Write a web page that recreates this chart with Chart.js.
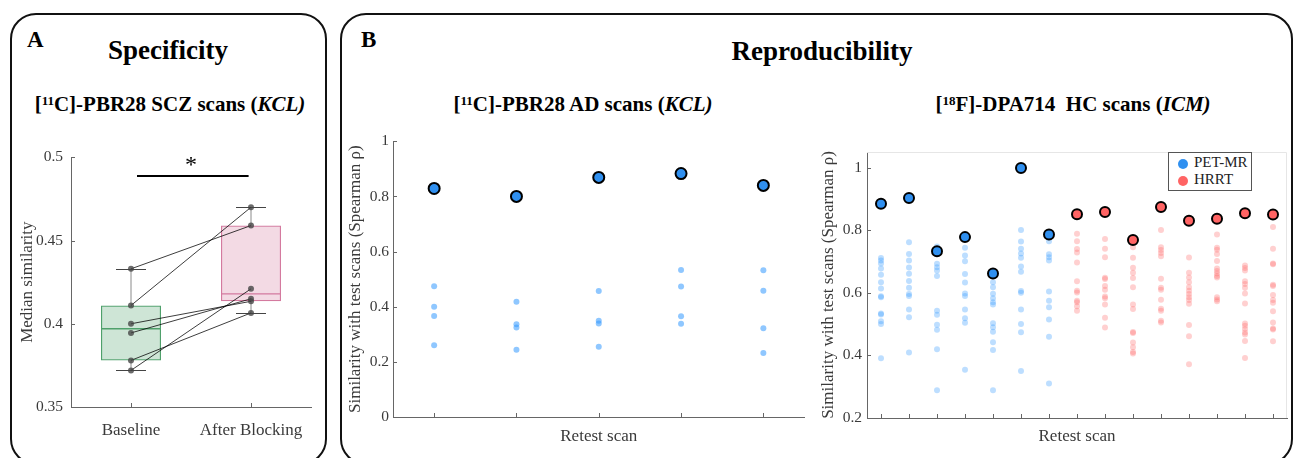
<!DOCTYPE html>
<html>
<head>
<meta charset="utf-8">
<script src="https://cdn.jsdelivr.net/npm/chart.js@4.4.0/dist/chart.umd.min.js"></script>
<style>
  html, body { margin: 0; padding: 0; background: #fff; }
  body {
    width: 1294px; height: 458px; position: relative; overflow: hidden;
    font-family: 'Liberation Serif', 'Times New Roman', serif; color: #000;
  }
  .panel { position: absolute; border: 2px solid #111; border-radius: 26px; box-sizing: border-box; }
  .txt { position: absolute; white-space: pre; font-weight: bold; line-height: normal; }
  .center { transform: translateX(-50%); }
  .sup { font-size: 0.62em; position: relative; top: -0.5em; }
  canvas { position: absolute; }
  #legend {
    position: absolute; left: 1168px; top: 152px; width: 84px; height: 39px;
    box-sizing: border-box; border: 1px solid #555; background: #fff;
    font-size: 15px; color: #222;
  }
  #legend div { position: absolute; left: 25px; white-space: nowrap; }
  #legend span.dot { position: absolute; width: 10px; height: 10px; border-radius: 50%; left: 9px; }
</style>
</head>
<body>

<div class="panel" style="left:10px; top:13px; width:317px; height:452px;"></div>
<div class="panel" style="left:340px; top:13px; width:953px; height:452px;"></div>

<div class="txt" style="left:27px; top:27px; font-size:23px;">A</div>
<div class="txt center" style="left:168px; top:35px; font-size:27px;">Specificity</div>
<div class="txt center" style="left:170px; top:92px; font-size:21px;">[<span class="sup">11</span>C]-PBR28 SCZ scans (<i>KCL)</i></div>

<div class="txt" style="left:361px; top:27px; font-size:23px;">B</div>
<div class="txt center" style="left:822px; top:36px; font-size:27px;">Reproducibility</div>
<div class="txt center" style="left:583px; top:92px; font-size:21px;">[<span class="sup">11</span>C]-PBR28 AD scans (<i>KCL)</i></div>
<div class="txt center" style="left:1073px; top:92px; font-size:21px;">[<span class="sup">18</span>F]-DPA714  HC scans (<i>ICM)</i></div>

<canvas id="specChart" width="326" height="318" style="left:0px; top:140px;"></canvas>
<canvas id="adChart" width="470" height="330" style="left:342px; top:128px;"></canvas>
<canvas id="hcChart" width="482" height="330" style="left:812px; top:128px;"></canvas>

<div id="legend">
  <span class="dot" style="top:6px; background:#3090f0;"></span><div style="top:1px;">PET-MR</div>
  <span class="dot" style="top:23px; background:#ff6464;"></span><div style="top:18px;">HRRT</div>
</div>

<script>
// ---- A: specificity (median similarity per subject) ----
const groups = ['Baseline', 'After Blocking'];
const baselineSim = [0.433, 0.411, 0.400, 0.3945, 0.378, 0.372];
const blockedSim = [0.459, 0.470, 0.4135, 0.415, 0.4065, 0.421];
const boxQ1 = [0.378, 0.4135];
const boxQ3 = [0.411, 0.459];
const boxMedian = [0.397, 0.418];
const whiskerLow = [0.372, 0.4065];
const whiskerHigh = [0.433, 0.470];
const specTicks = [0.35, 0.4, 0.45, 0.5];
const sigLevel = 0.489;

// ---- B left: [11C]-PBR28 AD retest scans ----
const adScans = [1, 2, 3, 4, 5];
const adSelf = [0.829, 0.800, 0.869, 0.883, 0.840];
const adOthers = [
  [0.474, 0.400, 0.366, 0.260],
  [0.418, 0.336, 0.325, 0.244],
  [0.457, 0.349, 0.339, 0.255],
  [0.533, 0.473, 0.365, 0.338],
  [0.532, 0.458, 0.322, 0.232]
];

// ---- B right: [18F]-DPA714 HC retest scans ----
const petmrScans = [1, 2, 3, 4, 5, 6, 7];
const petmrSelf = [0.885, 0.903, 0.733, 0.778, 0.662, 0.999, 0.786];
const petmrOthers = [
  [0.711, 0.703, 0.694, 0.678, 0.658, 0.634, 0.614, 0.589, 0.586, 0.534, 0.531, 0.509, 0.500, 0.391],
  [0.762, 0.724, 0.703, 0.681, 0.661, 0.638, 0.616, 0.596, 0.590, 0.547, 0.522, 0.409],
  [0.748, 0.693, 0.682, 0.671, 0.654, 0.543, 0.530, 0.498, 0.482, 0.420, 0.289],
  [0.744, 0.719, 0.701, 0.660, 0.633, 0.598, 0.590, 0.547, 0.519, 0.504, 0.354],
  [0.634, 0.618, 0.597, 0.583, 0.570, 0.563, 0.503, 0.490, 0.476, 0.442, 0.417, 0.289],
  [0.801, 0.764, 0.741, 0.726, 0.712, 0.684, 0.667, 0.606, 0.600, 0.547, 0.500, 0.474, 0.350],
  [0.765, 0.723, 0.714, 0.703, 0.604, 0.575, 0.554, 0.515, 0.460, 0.310]
];
const hrrtScans = [8, 9, 10, 11, 12, 13, 14, 15];
const hrrtSelf = [0.851, 0.858, 0.769, 0.874, 0.830, 0.837, 0.854, 0.850];
const hrrtOthers = [
  [0.789, 0.765, 0.740, 0.729, 0.697, 0.637, 0.607, 0.601, 0.575, 0.570, 0.557, 0.543],
  [0.772, 0.741, 0.714, 0.648, 0.644, 0.622, 0.610, 0.588, 0.583, 0.563, 0.520, 0.489],
  [0.746, 0.712, 0.680, 0.664, 0.647, 0.618, 0.563, 0.548, 0.475, 0.472, 0.441, 0.426, 0.411, 0.406],
  [0.801, 0.746, 0.737, 0.727, 0.717, 0.645, 0.616, 0.610, 0.578, 0.549, 0.543, 0.511, 0.505],
  [0.713, 0.664, 0.649, 0.634, 0.618, 0.607, 0.596, 0.586, 0.577, 0.565, 0.497, 0.461, 0.372],
  [0.786, 0.744, 0.738, 0.724, 0.702, 0.678, 0.670, 0.662, 0.654, 0.649, 0.586, 0.579, 0.573],
  [0.687, 0.679, 0.671, 0.637, 0.628, 0.616, 0.598, 0.566, 0.502, 0.495, 0.484, 0.473, 0.467, 0.446, 0.392],
  [0.810, 0.741, 0.694, 0.691, 0.626, 0.622, 0.593, 0.577, 0.568, 0.541, 0.505, 0.486, 0.483, 0.445]
];

const FONT = "'Liberation Serif', 'Times New Roman', serif";
const AXIS_TEXT = '#3a3a3a';
const AXIS_LINE = '#666';

// petits traits de graduation vers l'intérieur (style MATLAB)
const axisTicks = {
  id: 'axisTicks',
  afterDraw(chart, args, opts) {
    const {ctx, chartArea: area, scales: {x, y}} = chart;
    ctx.save();
    ctx.strokeStyle = AXIS_LINE;
    ctx.lineWidth = 1;
    ctx.beginPath();
    x.ticks.forEach(t => {
      const px = Math.round(x.getPixelForValue(t.value)) + 0.5;
      ctx.moveTo(px, area.bottom);
      ctx.lineTo(px, area.bottom - 4);
    });
    y.ticks.forEach(t => {
      const py = Math.round(y.getPixelForValue(t.value)) + 0.5;
      ctx.moveTo(area.left, py);
      ctx.lineTo(area.left + 4, py);
    });
    ctx.stroke();
    if (opts.box) {
      ctx.strokeStyle = '#e6e6e6';
      ctx.beginPath();
      ctx.moveTo(area.left, area.top + 0.5);
      ctx.lineTo(area.right - 0.5, area.top + 0.5);
      ctx.lineTo(area.right - 0.5, area.bottom);
      ctx.stroke();
    }
    ctx.restore();
  }
};

// moustaches, médianes et barre de significativité du boxplot
const boxExtras = {
  id: 'boxExtras',
  afterDatasetDraw(chart, args) {
    if (args.index !== 0) return;
    const {ctx, scales: {x, y}} = chart;
    const bars = chart.getDatasetMeta(0).data;
    const edge = ['#4fa06b', '#d47a9f'];
    ctx.save();
    groups.forEach((g, i) => {
      const cx = x.getPixelForValue(i);
      const half = bars[i].width / 2;
      const cap = bars[i].width / 4;
      ctx.strokeStyle = '#8a8a8a';
      ctx.lineWidth = 1;
      ctx.beginPath();
      ctx.moveTo(cx, y.getPixelForValue(boxQ3[i]));
      ctx.lineTo(cx, y.getPixelForValue(whiskerHigh[i]));
      ctx.moveTo(cx, y.getPixelForValue(boxQ1[i]));
      ctx.lineTo(cx, y.getPixelForValue(whiskerLow[i]));
      ctx.stroke();
      ctx.strokeStyle = '#444';
      ctx.beginPath();
      [whiskerHigh[i], whiskerLow[i]].forEach(v => {
        const py = Math.round(y.getPixelForValue(v)) + 0.5;
        ctx.moveTo(cx - cap, py);
        ctx.lineTo(cx + cap, py);
      });
      ctx.stroke();
      ctx.strokeStyle = edge[i];
      ctx.lineWidth = 1.3;
      ctx.beginPath();
      const my = y.getPixelForValue(boxMedian[i]);
      ctx.moveTo(cx - half, my);
      ctx.lineTo(cx + half, my);
      ctx.stroke();
    });
    const sy = Math.round(y.getPixelForValue(sigLevel));
    ctx.strokeStyle = '#000';
    ctx.lineWidth = 2;
    ctx.beginPath();
    ctx.moveTo(x.getPixelForValue(0.05), sy);
    ctx.lineTo(x.getPixelForValue(0.98), sy);
    ctx.stroke();
    ctx.fillStyle = '#000';
    ctx.font = '24px ' + FONT;
    ctx.textAlign = 'center';
    ctx.textBaseline = 'alphabetic';
    ctx.fillText('*', x.getPixelForValue(0.5), sy - 4);
    ctx.restore();
  }
};

const fmt = v => String(+v.toFixed(2));

function yTitle(text, pad) {
  return {display: true, text: text, color: AXIS_TEXT, font: {family: FONT, size: 17}, padding: {top: pad, bottom: 0}};
}

// ---- Chart A ----
new Chart(document.getElementById('specChart'), {
  data: {
    labels: groups,
    datasets: [
      {
        type: 'bar',
        data: groups.map((g, i) => [boxQ1[i], boxQ3[i]]),
        backgroundColor: ['rgba(79,160,107,0.28)', 'rgba(212,122,159,0.28)'],
        borderColor: ['#4fa06b', '#d47a9f'],
        borderWidth: 1.2,
        borderSkipped: false,
        barPercentage: 0.5,
        categoryPercentage: 1,
        order: 3
      },
      ...baselineSim.map((b, i) => ({
        type: 'line',
        data: [b, blockedSim[i]],
        borderColor: 'rgba(0,0,0,0.85)',
        borderWidth: 0.9,
        pointRadius: 3,
        pointBackgroundColor: 'rgba(70,70,70,0.8)',
        pointBorderWidth: 0,
        order: 1
      }))
    ]
  },
  options: {
    responsive: false,
    animation: false,
    devicePixelRatio: 1,
    layout: {padding: {top: 12, right: 15, left: 0, bottom: 0}},
    plugins: {legend: {display: false}, tooltip: {enabled: false}},
    scales: {
      x: {
        type: 'category',
        offset: true,
        grid: {display: false, drawTicks: false},
        border: {display: true, color: AXIS_LINE},
        ticks: {color: AXIS_TEXT, font: {family: FONT, size: 17}, padding: 13, maxRotation: 0},
        afterFit: s => { s.height = 51; }
      },
      y: {
        min: 0.35,
        max: 0.5,
        grid: {display: false, drawTicks: false},
        border: {display: true, color: AXIS_LINE},
        ticks: {color: AXIS_TEXT, font: {family: FONT, size: 15.5}, padding: 8, callback: fmt},
        afterBuildTicks: s => { s.ticks = specTicks.map(v => ({value: v})); },
        title: yTitle('Median similarity', 17),
        afterFit: s => { s.width = 71; }
      }
    }
  },
  plugins: [axisTicks, boxExtras]
});

// ---- Charts B ----
function retestOptions(opts) {
  return {
    responsive: false,
    animation: false,
    devicePixelRatio: 1,
    layout: {padding: {top: opts.padTop, right: opts.padRight, left: 0, bottom: 0}},
    plugins: {legend: {display: false}, tooltip: {enabled: false}, axisTicks: {box: opts.box}},
    scales: {
      x: {
        type: 'linear',
        min: 0.5,
        max: opts.scans.length + 0.5,
        grid: {display: false, drawTicks: false},
        border: {display: true, color: AXIS_LINE},
        ticks: {display: false},
        afterBuildTicks: s => { s.ticks = opts.scans.map(v => ({value: v})); },
        title: {display: true, text: 'Retest scan', color: AXIS_TEXT, font: {family: FONT, size: 17}, padding: {top: 0, bottom: 11}},
        afterFit: s => { s.height = opts.xHeight; }
      },
      y: {
        min: opts.yMin,
        max: opts.yMax,
        grid: {display: false, drawTicks: false},
        border: {display: true, color: AXIS_LINE},
        ticks: {color: AXIS_TEXT, font: {family: FONT, size: 15.5}, padding: opts.tickPad, stepSize: 0.2, includeBounds: false, callback: fmt},
        title: yTitle('Similarity with test scans (Spearman \u03C1)', opts.titlePad),
        afterFit: s => { s.width = opts.yWidth; }
      }
    }
  };
}

function cloud(scans, values, color) {
  return {
    data: scans.flatMap((s, i) => values[i].map(v => ({x: s, y: v}))),
    pointRadius: 3,
    pointBackgroundColor: color,
    pointBorderWidth: 0,
    order: 2
  };
}

function selfDots(scans, values, color, r) {
  return {
    data: scans.map((s, i) => ({x: s, y: values[i]})),
    pointRadius: r,
    pointBackgroundColor: color,
    pointBorderColor: '#000',
    pointBorderWidth: 2,
    order: 1
  };
}

new Chart(document.getElementById('adChart'), {
  type: 'scatter',
  data: {
    datasets: [
      cloud(adScans, adOthers, 'rgba(51,153,255,0.55)'),
      selfDots(adScans, adSelf, '#3090f0', 5.5)
    ]
  },
  options: retestOptions({scans: adScans, yMin: 0, yMax: 1, padTop: 12, padRight: 6, xHeight: 41, yWidth: 51, tickPad: 4, titlePad: 3, box: false}),
  plugins: [axisTicks]
});

const hcScans = petmrScans.concat(hrrtScans);
new Chart(document.getElementById('hcChart'), {
  type: 'scatter',
  data: {
    datasets: [
      cloud(petmrScans, petmrOthers, 'rgba(51,153,255,0.32)'),
      cloud(hrrtScans, hrrtOthers, 'rgba(255,100,100,0.3)'),
      selfDots(petmrScans, petmrSelf, '#3090f0', 5),
      selfDots(hrrtScans, hrrtSelf, '#ff6464', 5)
    ]
  },
  options: retestOptions({scans: hcScans, yMin: 0.2, yMax: 1.05, padTop: 24, padRight: 2, xHeight: 40, yWidth: 55, tickPad: 5, titlePad: 6, box: true}),
  plugins: [axisTicks]
});
</script>
</body>
</html>
